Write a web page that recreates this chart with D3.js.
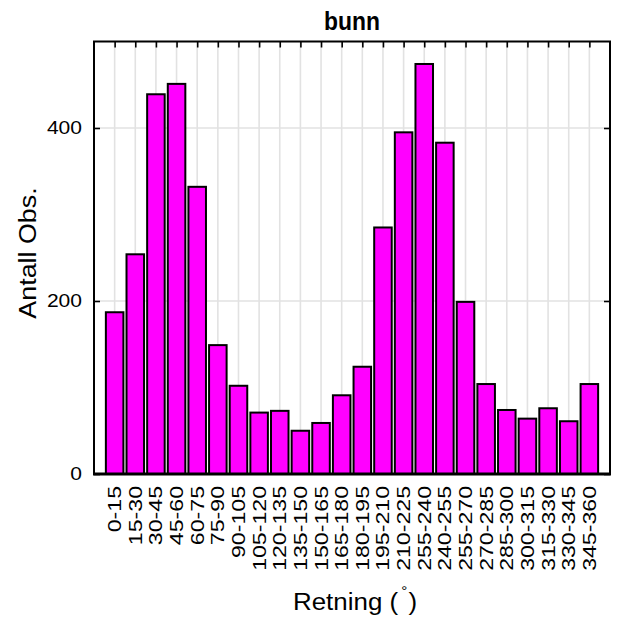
<!DOCTYPE html>
<html>
<head>
<meta charset="utf-8">
<script src="https://cdn.jsdelivr.net/npm/d3@7"></script>
<style>
  html, body { margin: 0; padding: 0; background: #fff; }
  svg { display: block; font-family: "Liberation Sans", Arial, sans-serif; }
</style>
</head>
<body>
<svg id="chart" width="617" height="619"></svg>
<script>
// Direction classes (degrees) and observation counts
const categories = ["0-15","15-30","30-45","45-60","60-75","75-90","90-105","105-120",
  "120-135","135-150","150-165","165-180","180-195","195-210","210-225","255-240",
  "240-255","255-270","270-285","285-300","300-315","315-330","330-345","345-360"];
const counts = [187, 254, 439, 451, 332, 149, 102, 71, 73, 50, 59, 91, 124, 285, 395, 474,
  383, 199, 104, 74, 64, 76, 61, 104];
const yTicks = [0, 200, 400];
const titleText = "bunn";
const yTitle = "Antall Obs.";
const xTitle = "Retning (";

const svg = d3.select("#chart");
const plotL = 94, plotR = 610, plotT = 41.5, plotB = 474;

// Bars sit at positions 1..n on a linear axis running 0..n+1
const x = d3.scaleLinear().domain([0, categories.length + 1]).range([plotL, plotR]);
const y = d3.scaleLinear().domain([0, 500]).range([plotB, plotT]);
const step = x(1) - x(0);
const barW = step * 0.85;

// grid
const grid = svg.append("g");
grid.selectAll("line.vg").data(categories).join("line")
  .attr("x1", (d, i) => x(i + 1)).attr("x2", (d, i) => x(i + 1))
  .attr("y1", plotT).attr("y2", plotB)
  .attr("stroke", "#e2e2e2").attr("stroke-width", 1.6);
grid.selectAll("line.hg").data(yTicks.filter(v => v > 0)).join("line")
  .attr("x1", plotL).attr("x2", plotR)
  .attr("y1", d => y(d)).attr("y2", d => y(d))
  .attr("stroke", "#e2e2e2").attr("stroke-width", 1.6);

// axes with inward ticks
const topAxis = d3.axisTop(x).tickValues(d3.range(1, categories.length + 1))
  .tickSize(-6).tickFormat("");
svg.append("g").attr("transform", `translate(0,${plotT})`).call(topAxis)
  .call(g => g.select(".domain").remove())
  .selectAll("line").attr("stroke", "#000").attr("stroke-width", 1.6);

const leftAxis = d3.axisLeft(y).tickValues(yTicks).tickSize(-6).tickFormat("");
svg.append("g").attr("transform", `translate(${plotL},0)`).call(leftAxis)
  .call(g => g.select(".domain").remove())
  .selectAll("line").attr("stroke", "#000").attr("stroke-width", 1.6);

const rightAxis = d3.axisRight(y).tickValues(yTicks).tickSize(-6).tickFormat("");
svg.append("g").attr("transform", `translate(${plotR},0)`).call(rightAxis)
  .call(g => g.select(".domain").remove())
  .selectAll("line").attr("stroke", "#000").attr("stroke-width", 1.6);

// bars
svg.append("g").selectAll("rect").data(counts).join("rect")
  .attr("x", (d, i) => x(i + 1) - barW / 2)
  .attr("y", d => y(d))
  .attr("width", barW)
  .attr("height", d => y(0) - y(d))
  .attr("fill", "#ff00ff")
  .attr("stroke", "#000").attr("stroke-width", 2);

// frame
svg.append("path")
  .attr("d", `M${plotL},${plotB}V${plotT}H${plotR}V${plotB}`)
  .attr("fill", "none").attr("stroke", "#000").attr("stroke-width", 2);
svg.append("line").attr("x1", plotL - 1).attr("x2", plotR + 1)
  .attr("y1", plotB).attr("y2", plotB)
  .attr("stroke", "#000").attr("stroke-width", 3);

// y tick labels
svg.append("g").selectAll("text").data(yTicks).join("text")
  .attr("transform", d => `translate(82,${y(d)}) scale(1.17,1)`)
  .attr("text-anchor", "end").attr("dy", "0.35em")
  .attr("font-size", 18).attr("fill", "#000")
  .text(d => d);

// x tick labels, rotated
svg.append("g").selectAll("text").data(categories).join("text")
  .attr("transform", (d, i) => `translate(${x(i + 1)},486) rotate(-90) scale(1.25,1)`)
  .attr("text-anchor", "end").attr("dy", "0.35em")
  .attr("font-size", 18.5).attr("fill", "#000")
  .text(d => d);

// title
svg.append("text")
  .attr("transform", `translate(${(plotL + plotR) / 2},30) scale(0.88,1)`)
  .attr("text-anchor", "middle")
  .attr("font-size", 26).attr("font-weight", "bold").attr("fill", "#000")
  .text(titleText);

// y title
svg.append("text")
  .attr("transform", `translate(36,253) rotate(-90) scale(1.12,1)`)
  .attr("text-anchor", "middle")
  .attr("font-size", 24).attr("fill", "#000")
  .text(yTitle);

// x title with raised degree sign
const xt = svg.append("text")
  .attr("transform", `translate(293,610) scale(1.08,1)`)
  .attr("font-size", 24).attr("fill", "#000");
xt.append("tspan").text(xTitle);
xt.append("tspan").attr("dx", 3).attr("dy", -14).attr("font-size", 14).text("°");
xt.append("tspan").attr("dx", 1).attr("dy", 14).text(")");
</script>
</body>
</html>
